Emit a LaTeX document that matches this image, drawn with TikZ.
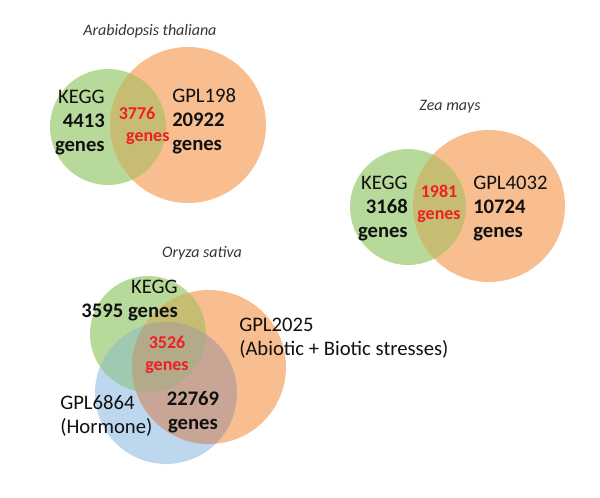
\documentclass[tikz,border=0pt]{standalone}
\usepackage{fontspec}
\setmainfont{Carlito}
\usepackage{tikz}
\usetikzlibrary{positioning}
\usepackage{xcolor}
\definecolor{KeggGreen}{HTML}{B7DA9B}
\definecolor{GplOrange}{HTML}{F8BE90}
\definecolor{GplBlue}{HTML}{BDD7EE}
\definecolor{GreenOrange}{HTML}{C6BD73}
\definecolor{GreenBlue}{HTML}{A0C9B2}
\definecolor{OrangeBlue}{HTML}{C9A596}
\definecolor{AllThree}{HTML}{B2AA89}
\definecolor{SharedRed}{HTML}{F01E23}
\definecolor{DarkText}{HTML}{111111}
\tikzset{
  species/.style={font=\fontsize{12}{14}\selectfont\itshape, text=DarkText!85, inner sep=0pt},
  setname/.style={font=\fontsize{15.5}{18}\selectfont, text=DarkText, inner sep=0pt},
  shared/.style={font=\fontsize{13.5}{16.5}\selectfont\bfseries, text=SharedRed, inner sep=0pt, align=center}
}

\begin{document}
\begin{tikzpicture}[x=0.75pt,y=-0.75pt]
\useasboundingbox (0,0) rectangle (600,497);
% Arabidopsis thaliana
\coordinate (atK) at (108,127);
\coordinate (atG) at (188,125);
\fill[KeggGreen] (atK) circle[radius=58];
\fill[GplOrange] (atG) circle[radius=78];
\begin{scope}
  \clip (atK) circle[radius=58];
  \fill[GreenOrange] (atG) circle[radius=78];
\end{scope}
\node[species] (atTitle) at (150,31) {Arabidopsis thaliana};
\node[setname, anchor=east, align=right] (atKegg) at (105,123) {KEGG\\\textbf{4413}\\\textbf{genes}};
\node[setname, anchor=west, align=left] (atGpl) at (172,121) {GPL198\\\textbf{20922}\\\textbf{genes}};
\node[shared] (atBoth) at (137,126) {3776\\\hspace*{1.2em}genes};

% Zea mays
\coordinate (zmK) at (408,207);
\coordinate (zmG) at (489,206);
\fill[KeggGreen] (zmK) circle[radius=58];
\fill[GplOrange] (zmG) circle[radius=76];
\begin{scope}
  \clip (zmK) circle[radius=58];
  \fill[GreenOrange] (zmG) circle[radius=76];
\end{scope}
\node[species] (zmTitle) at (450,107) {Zea mays};
\node[setname, anchor=east, align=right] (zmKegg) at (408,209) {KEGG\\\textbf{3168}\\\textbf{genes}};
\node[setname, anchor=west, align=left] (zmGpl) at (473,209) {GPL4032\\\textbf{10724}\\\textbf{genes}};
\node[shared] (zmBoth) at (439,204) {1981\\genes};

% Oryza sativa
\coordinate (osK) at (148,334);
\coordinate (osG) at (209,367);
\coordinate (osH) at (166,393);
\fill[KeggGreen] (osK) circle[radius=58];
\fill[GplOrange] (osG) circle[radius=77];
\fill[GplBlue] (osH) circle[radius=71];
\begin{scope}
  \clip (osK) circle[radius=58];
  \fill[GreenOrange] (osG) circle[radius=77];
  \fill[GreenBlue] (osH) circle[radius=71];
\end{scope}
\begin{scope}
  \clip (osG) circle[radius=77];
  \fill[OrangeBlue] (osH) circle[radius=71];
  \clip (osK) circle[radius=58];
  \fill[AllThree] (osH) circle[radius=71];
\end{scope}
\node[species] (osTitle) at (202,253) {Oryza sativa};
\node[setname, anchor=east, align=right] (osKegg) at (178,301) {KEGG\\\textbf{3595 genes}};
\node[setname, anchor=west, align=left] (osGpl) at (239,338) {GPL2025\\(Abiotic + Biotic stresses)};
\node[setname, anchor=west, align=left] (osHorm) at (60,416) {GPL6864\\(Hormone)};
\node[shared] (osAll) at (167,355) {3526\\genes};
\node[setname, align=center] (osGH) at (193,412) {\textbf{22769}\\\textbf{genes}};
\end{tikzpicture}
\end{document}
